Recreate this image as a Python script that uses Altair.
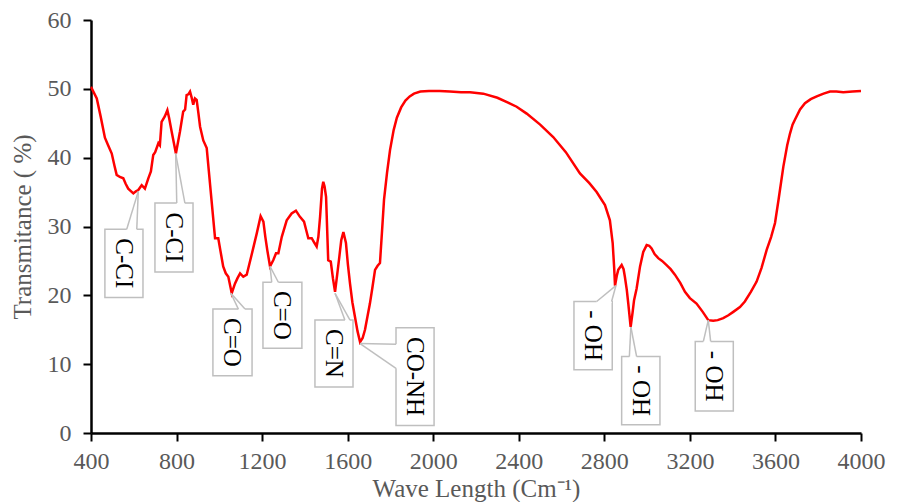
import altair as alt
import pandas as pd

# ---- spectrum (wavenumber, transmittance %) ----
wavenumber = [400, 403, 427, 445, 465, 480, 497, 510, 520, 535, 551, 562, 574, 598, 610, 621, 637, 652, 668, 680,
              691, 700, 715, 722, 730, 745, 757, 765, 777, 797, 816, 831, 840, 847, 855, 863, 870, 878, 886, 894,
              902, 910, 925, 941, 960, 980, 995, 1005, 1018, 1030, 1042, 1058, 1073, 1085, 1097, 1112, 1128, 1151,
              1175, 1193, 1206, 1215, 1224, 1237, 1252, 1265, 1276, 1292, 1315, 1338, 1358, 1377, 1396, 1406, 1416,
              1432, 1445, 1455, 1463, 1471, 1480, 1486, 1492, 1499, 1509, 1521, 1531, 1541, 1551, 1561, 1570, 1580,
              1592, 1601, 1611, 1622, 1634, 1646, 1658, 1670, 1681, 1693, 1704, 1715, 1728, 1740, 1751, 1760, 1770,
              1784, 1798, 1815, 1830, 1850, 1870, 1890, 1910, 1940, 1980, 2030, 2078, 2130, 2172, 2234, 2300, 2350,
              2390, 2437, 2500, 2561, 2620, 2686, 2730, 2764, 2803, 2826, 2839, 2846, 2850, 2858, 2865, 2881, 2890,
              2896, 2905, 2912, 2923, 2932, 2939, 2951, 2967, 2982, 2998, 3010, 3021, 3035, 3052, 3070, 3091, 3110,
              3130, 3155, 3177, 3200, 3231, 3260, 3286, 3309, 3330, 3356, 3380, 3403, 3434, 3457, 3485, 3512, 3535,
              3559, 3580, 3598, 3615, 3637, 3655, 3668, 3680, 3691, 3715, 3738, 3765, 3793, 3825, 3855, 3885, 3917,
              3960, 4000]
transmittance = [50.0, 50.1, 48.6, 46.0, 42.9, 41.8, 40.6, 38.8, 37.5, 37.2, 37.0, 36.2, 35.5, 34.8, 35.1, 35.3, 36.0,
                 35.5, 37.0, 38.0, 40.4, 40.8, 42.1, 41.8, 45.2, 46.0, 46.9, 45.8, 43.8, 40.6, 43.8, 46.7, 47.0, 49.1,
                 49.2, 49.6, 48.8, 47.7, 48.6, 48.4, 46.5, 44.5, 42.5, 41.4, 35.0, 28.3, 28.3, 26.5, 24.2, 23.2, 22.7,
                 20.3, 21.7, 22.5, 23.2, 22.7, 23.0, 25.9, 29.0, 31.5, 30.7, 28.5, 26.6, 24.2, 25.1, 26.1, 26.1, 28.5,
                 30.9, 31.9, 32.3, 31.4, 30.7, 29.5, 28.3, 28.3, 27.6, 27.1, 28.5, 31.4, 35.5, 36.5, 35.8, 34.3, 25.1,
                 24.9, 22.5, 20.5, 23.0, 25.6, 28.0, 29.2, 27.6, 24.5, 21.7, 19.0, 16.9, 14.8, 13.2, 13.8, 15.0, 17.0,
                 18.8, 21.0, 23.7, 24.3, 24.7, 29.0, 33.9, 37.8, 41.1, 44.0, 45.8, 47.3, 48.3, 48.9, 49.3, 49.6, 49.7,
                 49.7, 49.6, 49.5, 49.5, 49.3, 48.7, 48.0, 47.4, 46.4, 44.8, 43.0, 40.8, 37.7, 36.3, 35.0, 33.1, 30.9,
                 27.6, 24.0, 21.4, 22.8, 23.7, 24.4, 23.8, 22.7, 20.8, 18.8, 15.4, 17.5, 19.3, 21.0, 24.2, 26.3, 27.3,
                 27.2, 26.8, 26.0, 25.4, 25.0, 24.4, 23.8, 23.0, 21.8, 20.5, 19.6, 18.8, 17.6, 16.4, 16.3, 16.4, 16.7,
                 17.1, 17.6, 18.3, 19.1, 20.5, 22.0, 24.0, 26.6, 28.5, 30.5, 34.0, 38.7, 41.8, 43.5, 44.8, 45.5, 47.0,
                 47.9, 48.5, 48.9, 49.3, 49.6, 49.6, 49.5, 49.6, 49.7]

# ---- callout annotations (data units) ----
labels = ["C-CI", "C-CI", "C=O", "C=O", "C=N", "CO-NH", "- OH", "- OH", "- OH"]
peak_x = [621, 796, 1054, 1237, 1541, 1658, 2854, 2924, 3286]
peak_y = [35.1, 40.6, 20.3, 24.2, 20.3, 13.0, 21.4, 15.4, 16.4]
box_x1 = [465, 699, 970, 1204, 1447, 1826, 2658, 2881, 3225]
box_x2 = [643, 877, 1153, 1386, 1625, 2004, 2837, 3060, 3403]
box_top = [29.6, 33.4, 18.0, 21.9, 16.4, 15.3, 19.1, 11.1, 13.3]
box_bottom = [19.7, 23.4, 8.3, 12.3, 6.7, 1.1, 9.2, 1.2, 3.2]
wedge_ax = [567, 801, 1089, 1245, 1587, 1826, 2764, 2917, 3263]
wedge_ay = [29.6, 33.4, 18.0, 21.9, 16.4, 12.9, 19.1, 11.1, 13.3]
wedge_bx = [614, 839, 1120, 1276, 1611, 1826, 2834, 2951, 3297]
wedge_by = [29.6, 33.4, 18.0, 21.9, 16.4, 9.4, 19.1, 11.1, 13.3]

x_ticks = [400, 800, 1200, 1600, 2000, 2400, 2800, 3200, 3600, 4000]
y_ticks = [0, 10, 20, 30, 40, 50, 60]

spec = pd.DataFrame({"wn": wavenumber, "t": transmittance})
ann = pd.DataFrame({
    "label": labels, "px": peak_x, "py": peak_y,
    "x1": box_x1, "x2": box_x2, "yt": box_top, "yb": box_bottom,
    "ax": wedge_ax, "ay": wedge_ay, "bx": wedge_bx, "by": wedge_by,
})
ann["cx"] = (ann["x1"] + ann["x2"]) / 2
ann["cy"] = (ann["yt"] + ann["yb"]) / 2

FONT = "Liberation Serif"
GRAY = "#595959"
BOXC = "#BFBFBF"

xs = alt.Scale(domain=[400, 4000], nice=False, zero=False)
ys = alt.Scale(domain=[0, 60], nice=False)

x_axis = alt.Axis(values=x_ticks, format="d", title="Wave Length (Cm⁻¹)", grid=False, domainColor="black",
                  domainWidth=2.5, tickColor="black", tickWidth=2, tickSize=8, labelFont=FONT,
                  labelFontSize=24, labelColor=GRAY, labelPadding=8, titleFont=FONT, titleFontSize=25,
                  titleFontWeight="normal", titleColor=GRAY, titlePadding=3, labelFlush=False)
y_axis = alt.Axis(values=y_ticks, format="d", title="Transmitance ( %)", grid=False, domainColor="black",
                  domainWidth=2.5, tickColor="black", tickWidth=2, tickSize=8, labelFont=FONT,
                  labelFontSize=24, labelColor=GRAY, labelPadding=12, titleFont=FONT, titleFontSize=25,
                  titleFontWeight="normal", titleColor=GRAY, titlePadding=12, labelFlush=False)

line = alt.Chart(spec).mark_line(color="#FF0000", strokeWidth=2.5).encode(
    x=alt.X("wn:Q", scale=xs, axis=x_axis),
    y=alt.Y("t:Q", scale=ys, axis=y_axis),
    order="wn:Q",
)

base = alt.Chart(ann)
boxes = base.mark_rect(fill="white", stroke=BOXC, strokeWidth=1.5).encode(
    x=alt.X("x1:Q", scale=xs), x2="x2:Q", y=alt.Y("yt:Q", scale=ys), y2="yb:Q")
gap = base.mark_rule(color="white", strokeWidth=3).encode(
    x=alt.X("ax:Q", scale=xs), y=alt.Y("ay:Q", scale=ys), x2="bx:Q", y2="by:Q")
wedge_a = base.mark_rule(color=BOXC, strokeWidth=1.5).encode(
    x=alt.X("px:Q", scale=xs), y=alt.Y("py:Q", scale=ys), x2="ax:Q", y2="ay:Q")
wedge_b = base.mark_rule(color=BOXC, strokeWidth=1.5).encode(
    x=alt.X("px:Q", scale=xs), y=alt.Y("py:Q", scale=ys), x2="bx:Q", y2="by:Q")
texts = base.mark_text(angle=90, font=FONT, fontSize=25, color="black", align="center",
                       baseline="middle").encode(
    x=alt.X("cx:Q", scale=xs), y=alt.Y("cy:Q", scale=ys), text="label:N")

chart = alt.layer(line, boxes, gap, wedge_a, wedge_b, texts).properties(
    width=770, height=413,
    autosize=alt.AutoSizeParams(type="none"),
    padding={"left": 91, "top": 20, "right": 37, "bottom": 69},
    background="white",
).configure_view(stroke=None)

chart.save("out.html", embed_options={"renderer": "svg", "actions": False})
